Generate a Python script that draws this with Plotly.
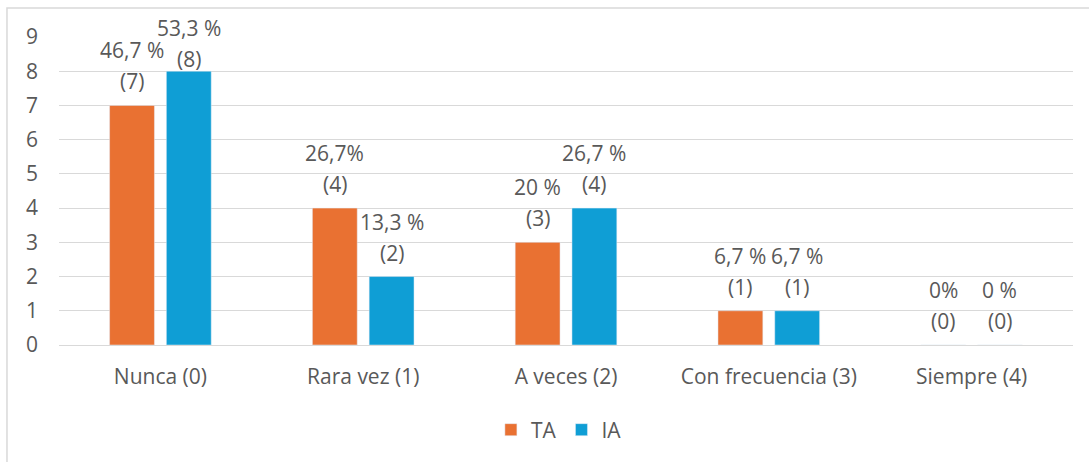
import plotly.graph_objects as go

# Datos del gráfico
categorias = ["Nunca (0)", "Rara vez (1)", "A veces (2)", "Con frecuencia (3)", "Siempre (4)"]
ta_valores = [7, 4, 3, 1, 0]
ia_valores = [8, 2, 4, 1, 0]
ta_pct = ["46,7 %", "26,7%", "20 %", "6,7 %", "0%"]
ia_pct = ["53,3 %", "13,3 %", "26,7 %", "6,7 %", "0 %"]

NARANJA = "#E97132"
AZUL = "#0F9ED5"
GRIS_TEXTO = "#595959"
GRIS_LINEA = "#D9D9D9"
FUENTE = "Open Sans"
TAM = 21

Y_MAX = 9
BARGAP = 0.44
BARGROUPGAP = 0.21
MARGEN = dict(l=59, r=16, t=37, b=117)
ALTO = 462

pos = list(range(len(categorias)))

fig = go.Figure()
fig.add_trace(go.Bar(x=pos, y=ta_valores, name="TA", marker_color=NARANJA))
fig.add_trace(go.Bar(x=pos, y=ia_valores, name="IA", marker_color=AZUL))

# Etiquetas: porcentaje arriba, conteo abajo (se bajan si chocan con el borde superior)
px_por_unidad = (ALTO - MARGEN["t"] - MARGEN["b"]) / Y_MAX
tope_px = (ALTO - MARGEN["b"]) - 28  # altura máxima del centro del porcentaje
desplaz = (1 - BARGAP) / 4
anotaciones = []
for serie, valores, pcts in ((-1, ta_valores, ta_pct), (1, ia_valores, ia_pct)):
    for i, v, p in zip(pos, valores, pcts):
        xa = i + serie * desplaz
        shift_pct = min(55, tope_px - v * px_por_unidad)
        anotaciones.append(dict(x=xa, y=v, text=f"({v})", showarrow=False,
                                yanchor="middle", yshift=shift_pct - 31,
                                font=dict(size=TAM, color=GRIS_TEXTO, family=FUENTE)))
        anotaciones.append(dict(x=xa, y=v, text=p, showarrow=False,
                                yanchor="middle", yshift=shift_pct,
                                font=dict(size=TAM, color=GRIS_TEXTO, family=FUENTE)))

fig.update_layout(
    width=1089,
    height=ALTO,
    margin=MARGEN,
    paper_bgcolor="white",
    plot_bgcolor="white",
    barmode="group",
    bargap=BARGAP,
    bargroupgap=BARGROUPGAP,
    font=dict(family=FUENTE, size=TAM, color=GRIS_TEXTO),
    showlegend=True,
    legend=dict(orientation="h", x=0.493, xanchor="center", y=-0.276, yanchor="middle",
                font=dict(size=TAM, color=GRIS_TEXTO), itemwidth=30),
    annotations=anotaciones,
    shapes=[dict(type="rect", xref="paper", yref="paper",
                 x0=-0.0513, x1=1.03, y0=-0.42, y1=1.094,
                 line=dict(color=GRIS_LINEA, width=1.5), fillcolor="rgba(0,0,0,0)",
                 layer="below")],
)
fig.update_xaxes(
    tickmode="array", tickvals=pos, ticktext=categorias,
    range=[-0.5, len(categorias) - 0.5],
    showgrid=False, showline=False, zeroline=False,
    ticks="", ticklabelstandoff=17,
    tickfont=dict(size=TAM, color=GRIS_TEXTO),
)
fig.update_yaxes(
    range=[0, Y_MAX], dtick=1,
    showgrid=True, gridcolor=GRIS_LINEA, gridwidth=1,
    zeroline=True, zerolinecolor=GRIS_LINEA, zerolinewidth=1,
    showline=False, ticks="", ticklabelstandoff=20,
    tickfont=dict(size=TAM, color=GRIS_TEXTO),
)

# quitar el margen del body para que la figura empiece en (0, 0)
fig.write_html("out.html", config={"displayModeBar": False},
               post_script="document.body.style.margin='0';")
